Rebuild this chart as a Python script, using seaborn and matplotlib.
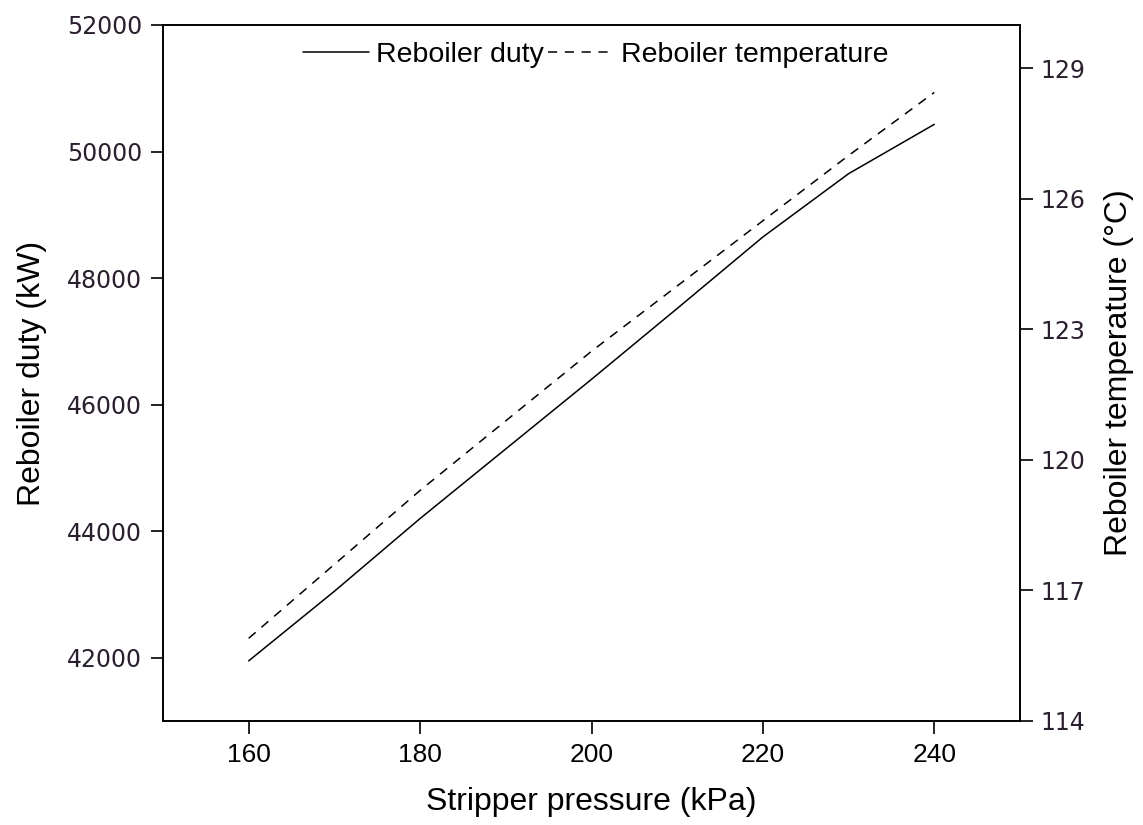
import matplotlib
matplotlib.use("Agg")
import matplotlib.pyplot as plt
import seaborn as sns
import pandas as pd

# data
pressure = [160, 170, 180, 190, 200, 210, 220, 230, 240]
duty = [41950, 43050, 44200, 45300, 46400, 47520, 48650, 49650, 50430]
temperature = [115.9, 117.6, 119.3, 120.9, 122.5, 124.0, 125.5, 127.0, 128.45]

duty_ticks = [42000, 44000, 46000, 48000, 50000, 52000]
temp_ticks = [114, 117, 120, 123, 126, 129]
pressure_ticks = [160, 180, 200, 220, 240]

df = pd.DataFrame({"Pressure": pressure, "Duty": duty, "Temperature": temperature})

sns.set_style("ticks")
plt.rcParams["text.color"] = "black"
label_font = ["Liberation Sans", "DejaVu Sans"]
tick_font = ["DejaVu Sans"]

fig = plt.figure(figsize=(11.43, 8.25), dpi=100)
ax = fig.add_axes([0.1426, 0.1261, 0.7498, 0.8436])
ax2 = ax.twinx()

sns.lineplot(data=df, x="Pressure", y="Duty", ax=ax, color="black",
             linewidth=1.1, label="Reboiler duty", legend=False)
sns.lineplot(data=df, x="Pressure", y="Temperature", ax=ax2, color="black",
             linewidth=1.1, linestyle=(0, (6, 5)), label="Reboiler temperature",
             legend=False)

ax.set_xlim(150, 250)
ax.set_ylim(41000, 52000)
ax2.set_ylim(114, 130)
ax.set_xticks(pressure_ticks)
ax.set_yticks(duty_ticks)
ax2.set_yticks(temp_ticks)

ax.set_xlabel("Stripper pressure (kPa)", fontsize=23, family=label_font,
              labelpad=14, color="black")
ax.set_ylabel("Reboiler duty (kW)", fontsize=23, family=label_font,
              labelpad=14, color="black")
ax2.set_ylabel("Reboiler temperature (°C)", fontsize=23, family=label_font,
               labelpad=13, color="black")

for a in (ax, ax2):
    a.tick_params(direction="out", length=9, width=1.2, colors="black")
    for sp in a.spines.values():
        sp.set_visible(True)
        sp.set_linewidth(1.2)
        sp.set_color("black")

for lab in ax.get_yticklabels() + ax2.get_yticklabels():
    lab.set_family(tick_font)
    lab.set_fontsize(17)
    lab.set_color("#2a1f2f")
for lab in ax.get_xticklabels():
    lab.set_family(label_font)
    lab.set_fontsize(19)
ax.tick_params(axis="x", pad=7)
ax.tick_params(axis="y", pad=6)
ax2.tick_params(axis="y", pad=6)

h1, lab1 = ax.get_legend_handles_labels()
h2, lab2 = ax2.get_legend_handles_labels()
leg = ax.legend(h1 + h2, lab1 + lab2, loc="upper center", bbox_to_anchor=(0.505, 1.0),
                ncol=2, frameon=False, handlelength=2.3, handletextpad=0.25,
                columnspacing=0.15, borderaxespad=0.2,
                prop={"family": label_font, "size": 20.5})
for t in leg.get_texts():
    t.set_color("black")

fig.savefig("out.png", dpi=100)
